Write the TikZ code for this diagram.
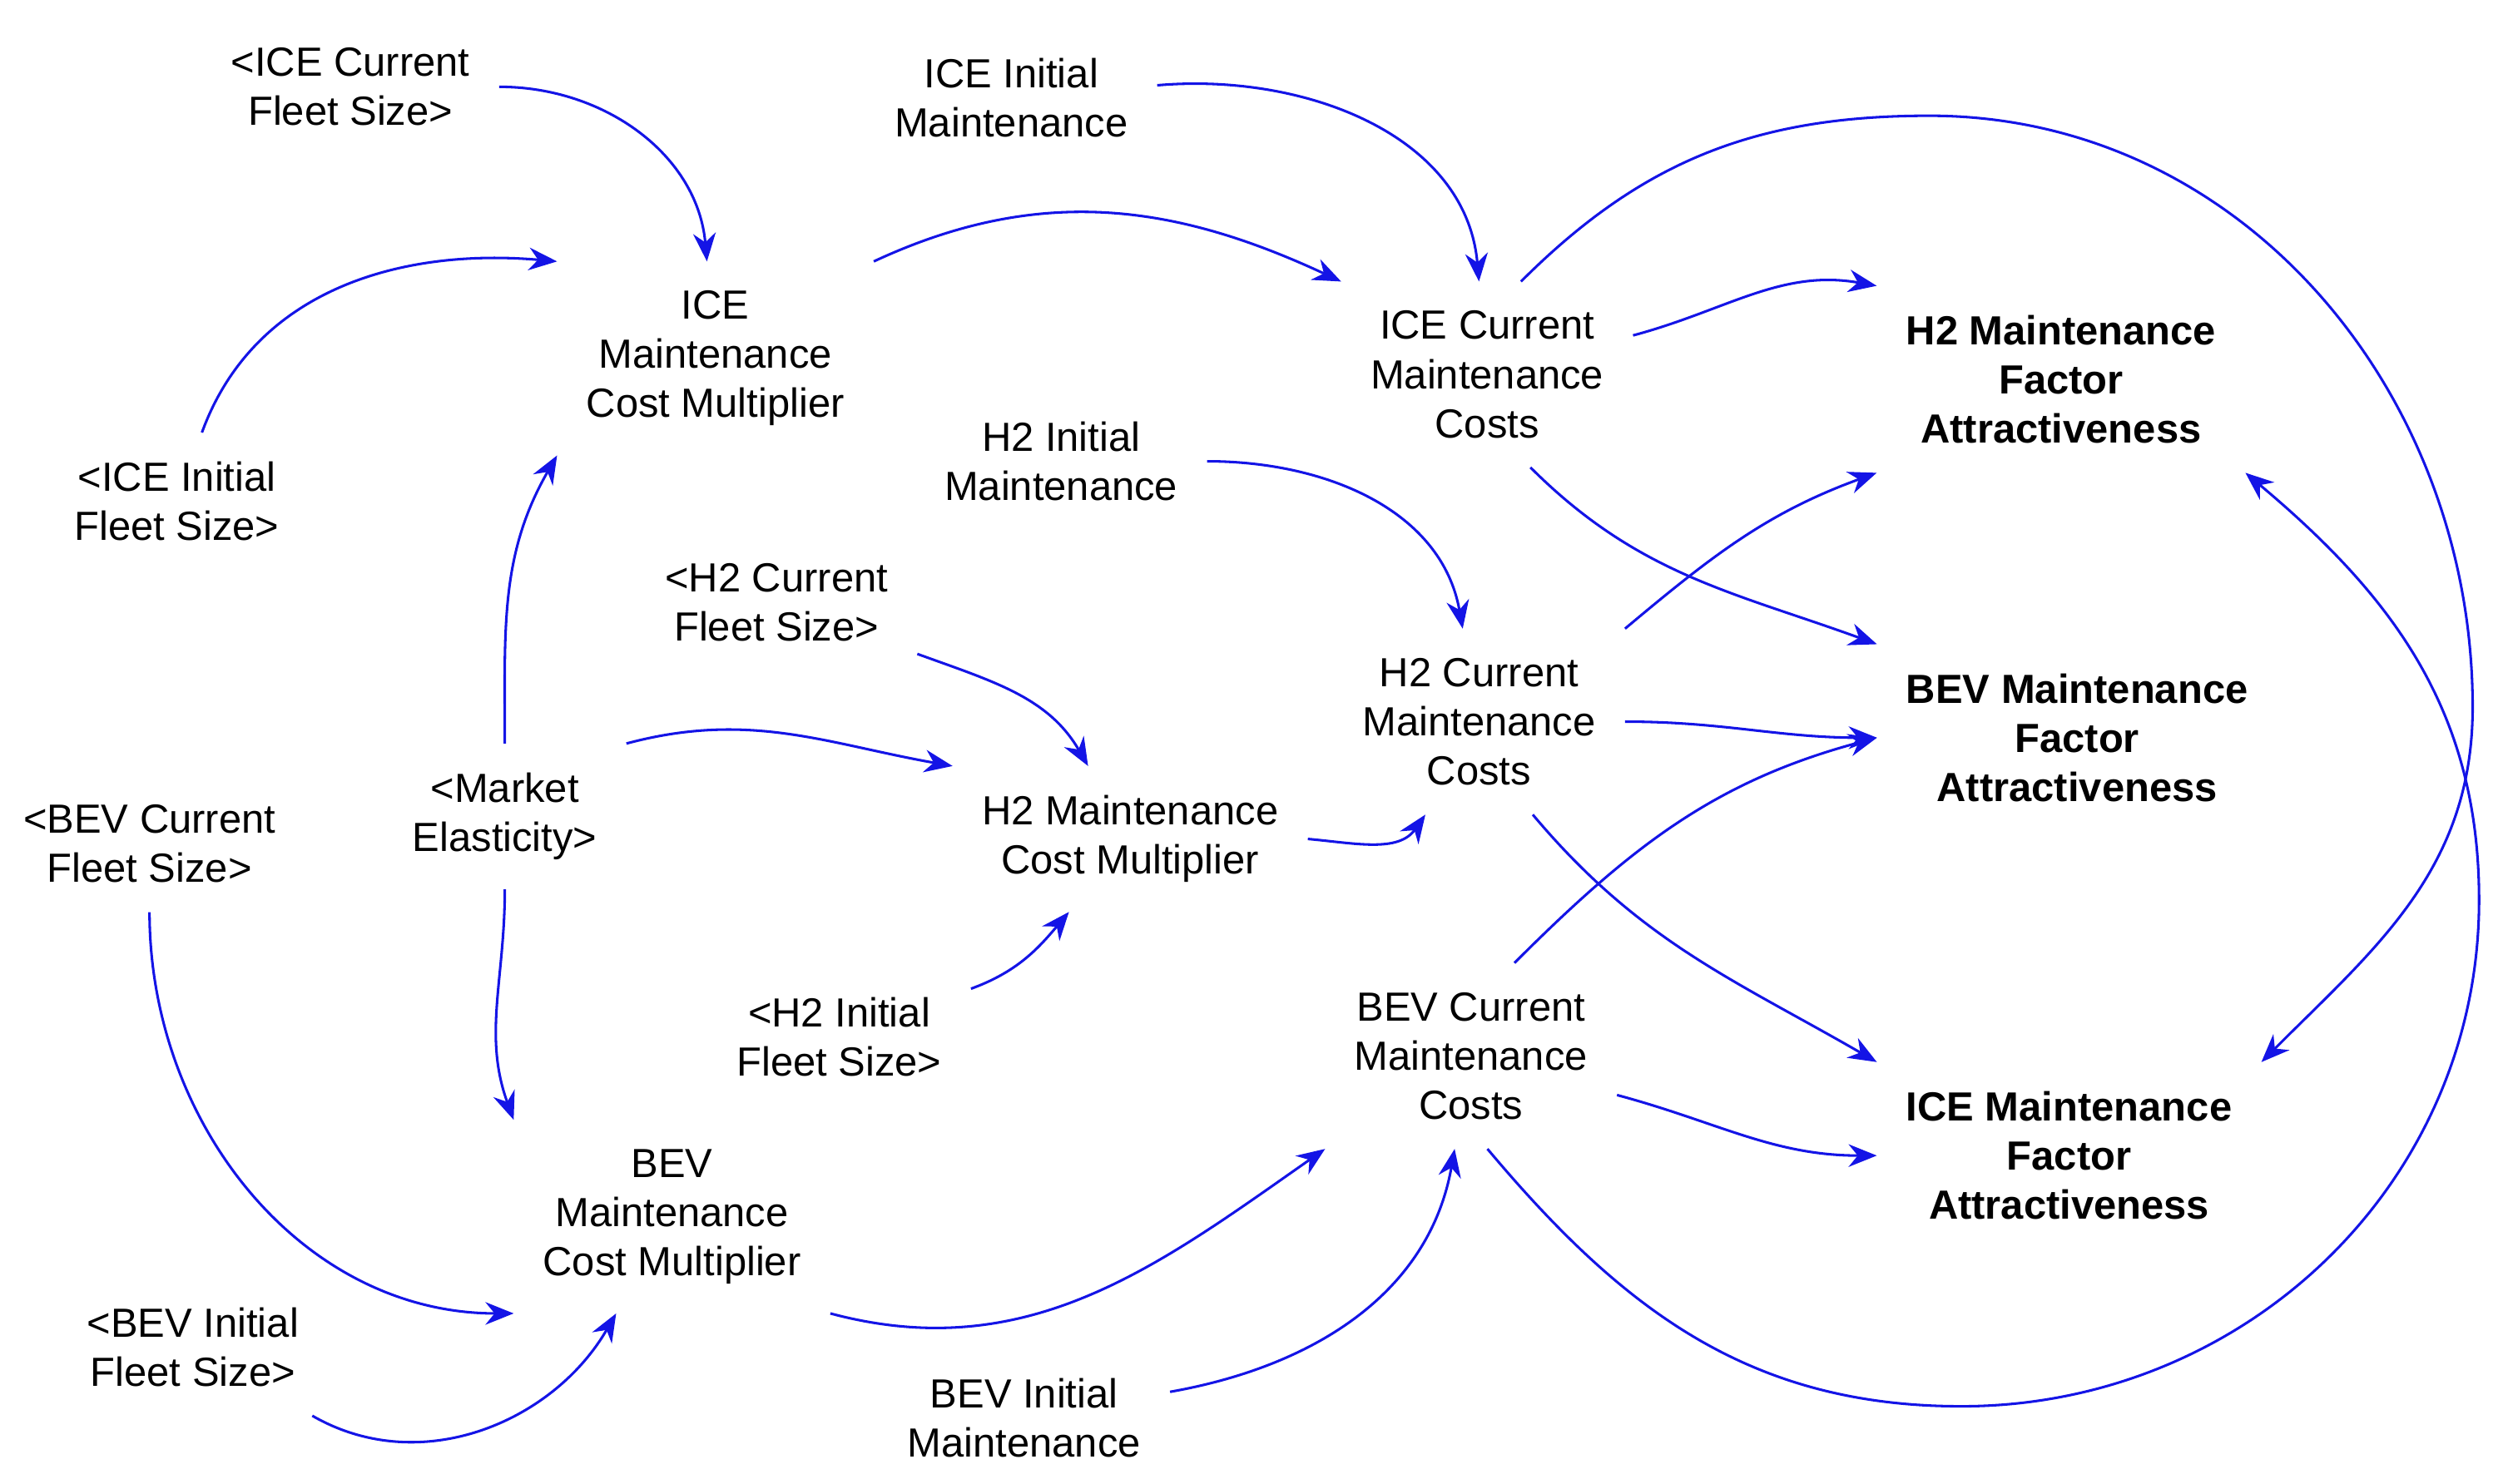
\documentclass[tikz,border=0pt]{standalone}
\usepackage{fontspec}
\setmainfont{Liberation Sans}
\usetikzlibrary{arrows.meta}
\begin{document}
\begin{tikzpicture}[x=0.01cm,y=0.01cm,
  v/.style={align=center,font=\fontsize{7.2}{8.7}\selectfont,inner sep=5pt},
  b/.style={v,font=\fontsize{7.2}{8.7}\selectfont\bfseries},
  l/.style={draw={rgb,255:red,20;green,20;blue,230},line width=0.45pt,-{Stealth[length=5pt,width=4pt]}}]
\useasboundingbox (0,0) rectangle (1560,-923);
\node[v] (ICEcf) at (218,-54) {<ICE Current\\Fleet Size>};
\node[v] (ICEinit) at (629,-61) {ICE Initial\\Maintenance};
\node[v] (ICEm) at (445,-223) {ICE\\Maintenance\\Cost Multiplier};
\node[v] (ICEif) at (110,-312) {<ICE Initial\\Fleet Size>};
\node[v] (ICEcc) at (925,-233) {ICE Current\\Maintenance\\Costs};
\node[b] (H2MF) at (1282,-236) {H2 Maintenance\\Factor\\Attractiveness};
\node[v] (H2init) at (660,-287) {H2 Initial\\Maintenance};
\node[v] (H2cf) at (483,-375) {<H2 Current\\Fleet Size>};
\node[v] (H2cc) at (920,-449) {H2 Current\\Maintenance\\Costs};
\node[b] (BEVMF) at (1292,-459) {BEV Maintenance\\Factor\\Attractiveness};
\node[v] (ME) at (314,-508) {<Market\\Elasticity>};
\node[v] (BEVcf) at (93,-525) {<BEV Current\\Fleet Size>};
\node[v] (H2m) at (703,-522) {H2 Maintenance\\Cost Multiplier};
\node[v] (H2if) at (522,-645) {<H2 Initial\\Fleet Size>};
\node[v] (BEVcc) at (915,-657) {BEV Current\\Maintenance\\Costs};
\node[b] (ICEMF) at (1287,-719) {ICE Maintenance\\Factor\\Attractiveness};
\node[v] (BEVm) at (418,-757) {BEV\\Maintenance\\Cost Multiplier};
\node[v] (BEVif) at (120,-838) {<BEV Initial\\Fleet Size>};
\node[v] (BEVinit) at (637,-882) {BEV Initial\\Maintenance};
\coordinate (t1) at (1200,-72);
\coordinate (r1) at (1538,-440);
\coordinate (t2) at (1220,-875);
\coordinate (r2) at (1542,-560);

\draw[l] (ICEcf) to[out=0,in=95] (ICEm);
\draw[l] (ICEif) to[out=70,in=175] (ICEm.north west);
\draw[l] (ICEm.north east) to[out=25,in=155] (ICEcc.north west);
\draw[l] (ICEinit) to[out=5,in=95] (ICEcc);
\draw[l] (ICEcc) to[out=15,in=170] (H2MF.north west);
\draw[l] (ICEcc.70) to[out=45,in=180] (t1) to[out=0,in=90] (r1) to[out=-90,in=45] (ICEMF.north east);
\draw[l] (BEVcc.-80) to[out=-50,in=180] (t2) to[out=0,in=-90] (r2) to[out=90,in=-40] (H2MF.south east);
\draw[l] (ICEcc.-65) to[out=-45,in=160] (BEVMF.north west);
\draw[l] (H2init) to[out=0,in=100] (H2cc);
\draw[l] (H2cc.north east) to[out=40,in=200] (H2MF.south west);
\draw[l] (H2cc) to[out=0,in=180] (BEVMF.west);
\draw[l] (H2cc.-60) to[out=-50,in=150] (ICEMF.north west);
\draw[l] (H2cf) to[out=-20,in=120] (H2m);
\draw[l] (ME.north east) to[out=15,in=170] (H2m.north west);
\draw[l] (ME) to[out=90,in=-120] (ICEm.south west);
\draw[l] (ME) to[out=-90,in=110] (BEVm.north west);
\draw[l] (H2m.east) to[out=-5,in=-125] (H2cc.240);
\draw[l] (H2if) to[out=20,in=-130] (H2m);
\draw[l] (BEVcf) to[out=-90,in=180] (BEVm.south west);
\draw[l] (BEVm.south east) to[out=-15,in=-145] (BEVcc.south west);
\draw[l] (BEVif) to[out=-30,in=-120] (BEVm);
\draw[l] (BEVinit) to[out=10,in=-100] (BEVcc);
\draw[l] (BEVcc.65) to[out=45,in=195] (BEVMF.west);
\draw[l] (BEVcc.-15) to[out=-15,in=180] (ICEMF.west);
\end{tikzpicture}
\end{document}
